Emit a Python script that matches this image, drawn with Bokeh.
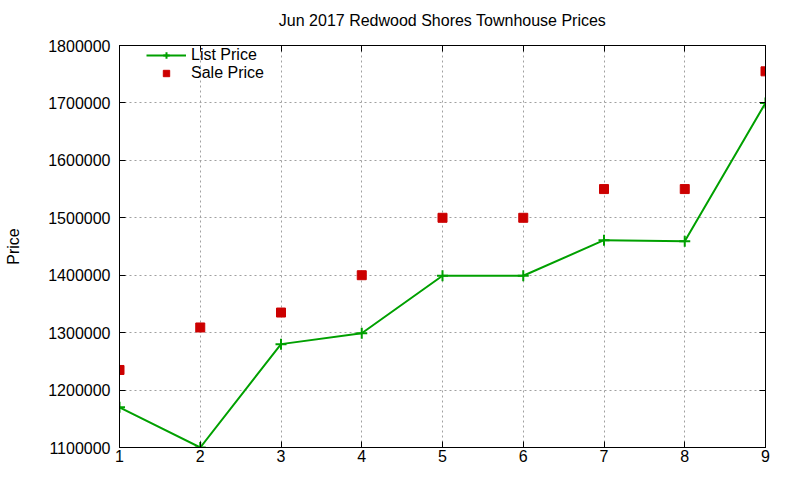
from bokeh.plotting import figure
from bokeh.models import (FixedTicker, PrintfTickFormatter, Range1d, LinearAxis,
                          Legend, LegendItem)
from bokeh.embed import file_html
from bokeh.resources import INLINE

x_vals = [1, 2, 3, 4, 5, 6, 7, 8, 9]
list_price = [1170000, 1100000, 1280000, 1299000, 1399000, 1399000, 1461000, 1459000, 1700000]
sale_price = [1235000, 1309000, 1335000, 1400000, 1500000, 1500000, 1550000, 1550000, 1755000]
y_ticks = [1100000, 1200000, 1300000, 1400000, 1500000, 1600000, 1700000, 1800000]
x_ticks = [1, 2, 3, 4, 5, 6, 7, 8, 9]

FONT = "Liberation Sans"

p = figure(width=784, height=464, output_backend="svg", toolbar_location=None,
           x_range=Range1d(1, 9), y_range=Range1d(1100000, 1800000),
           min_border_left=119, min_border_right=19, min_border_top=45,
           min_border_bottom=15)

p.title.text = "Jun 2017 Redwood Shores Townhouse Prices"
p.title.align = "center"
p.title.text_font = FONT
p.title.text_font_size = "16px"
p.title.text_font_style = "normal"
p.title.text_color = "black"

p.outline_line_color = "black"
p.outline_line_width = 1
p.outline_line_alpha = 1

for ax in (p.xaxis[0], p.yaxis[0]):
    ax.major_label_text_font = FONT
    ax.major_label_text_font_size = "16px"
    ax.major_label_text_color = "black"
    ax.major_tick_in = 6
    ax.major_tick_out = 0
    ax.minor_tick_in = 0
    ax.minor_tick_out = 0
    ax.axis_line_color = "black"
    ax.major_tick_line_color = "black"

p.xaxis[0].ticker = FixedTicker(ticks=x_ticks)
p.yaxis[0].ticker = FixedTicker(ticks=y_ticks)
p.yaxis[0].formatter = PrintfTickFormatter(format="%d")
p.xaxis[0].major_label_standoff = 2
p.yaxis[0].major_label_standoff = 9
p.yaxis[0].axis_label = "Price"
p.yaxis[0].axis_label_text_font = FONT
p.yaxis[0].axis_label_text_font_size = "16px"
p.yaxis[0].axis_label_text_font_style = "normal"
p.yaxis[0].axis_label_text_color = "black"
p.yaxis[0].axis_label_standoff = 23

# mirrored ticks on top/right (labels hidden)
top = LinearAxis(ticker=FixedTicker(ticks=x_ticks), major_label_text_font_size="1px",
                 major_label_text_alpha=0, major_label_standoff=0,
                 major_tick_in=6, major_tick_out=0, minor_tick_in=0, minor_tick_out=0,
                 axis_line_color="black")
right = LinearAxis(ticker=FixedTicker(ticks=y_ticks), major_label_text_font_size="1px",
                   major_label_text_alpha=0, major_label_standoff=0,
                   major_tick_in=6, major_tick_out=0, minor_tick_in=0, minor_tick_out=0,
                   axis_line_color="black")
p.add_layout(top, "above")
p.add_layout(right, "right")

# invisible spacer between frame and title
spacer = LinearAxis(ticker=FixedTicker(ticks=x_ticks), major_label_text_font_size="1px",
                    major_label_text_alpha=0, major_label_standoff=0,
                    major_tick_in=0, major_tick_out=12, minor_tick_in=0, minor_tick_out=0,
                    major_tick_line_color=None, axis_line_color=None)
p.add_layout(spacer, "above")

for g in (p.xgrid[0], p.ygrid[0]):
    g.grid_line_color = "#a0a0a0"
    g.grid_line_dash = "2 3"
    g.grid_line_width = 1

line = p.line(x_vals, list_price, line_color="#00a000", line_width=2)
cross = p.scatter(x_vals, list_price, marker="cross", size=11, line_color="#00a000",
                  line_width=2)
sq = p.scatter(x_vals, sale_price, marker="square", size=9, fill_color="#cc0000",
               line_color="#cc0000")

legend = Legend(items=[LegendItem(label="List Price", renderers=[line, cross]),
                       LegendItem(label="Sale Price", renderers=[sq])],
                location=(25, 363))
legend.background_fill_alpha = 0
legend.border_line_alpha = 0
legend.label_text_font = FONT
legend.label_text_font_size = "16px"
legend.label_text_color = "black"
legend.glyph_width = 40
legend.glyph_height = 16
legend.label_height = 16
legend.spacing = 0
legend.padding = 2
legend.margin = 0
p.add_layout(legend)

open("out.html", "w").write(file_html(p, INLINE))
